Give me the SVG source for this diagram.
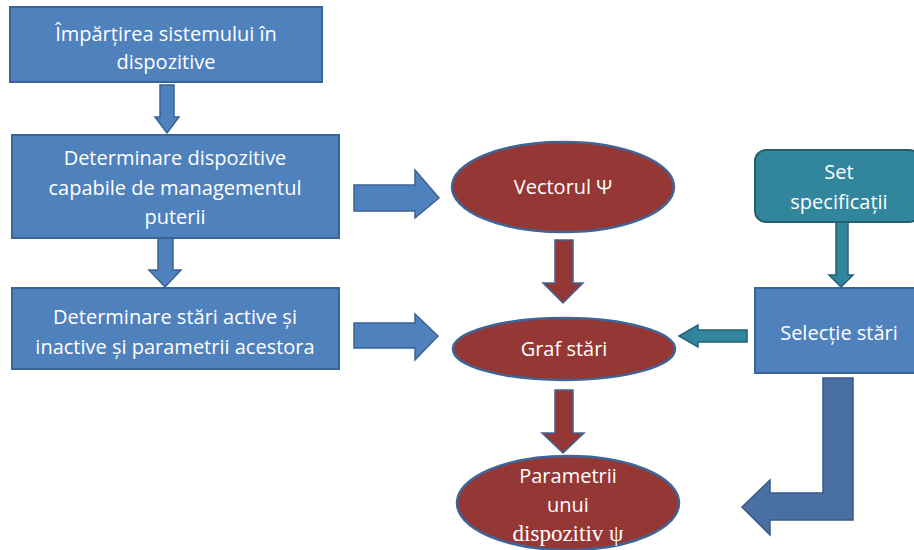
<svg xmlns="http://www.w3.org/2000/svg" width="914" height="550" viewBox="0 0 914 550">
  <style>
    .box { fill: #4F81BD; stroke: #3A6396; stroke-width: 2; }
    .teal { fill: #31859C; stroke: #245F70; stroke-width: 2; }
    .oval { fill: #953735; stroke: #3F6495; stroke-width: 2.5; }
    .arr-blue { fill: #4F81BD; stroke: #3A6396; stroke-width: 1.5; }
    .arr-red { fill: #953735; stroke: #3F6495; stroke-width: 1.5; }
    .arr-teal { fill: #31859C; stroke: #245F70; stroke-width: 1.5; }
    .arr-dark { fill: #4A6FA3; stroke: #3A5A88; stroke-width: 1.5; }
    text { font-family: "Open Sans", "Noto Sans", sans-serif; font-size: 20px; fill: #FFFFFF; text-anchor: middle; }
    .serif { font-family: "Liberation Serif", "DejaVu Serif", serif; font-size: 23px; }
  </style>

  <rect width="914" height="550" fill="#FFFFFF"/>

  <g id="connectors">
    <!-- left column, downward -->
    <polygon class="arr-blue" points="160,85 174,85 174,117 179,117 167,133 155,117 160,117"/>
    <polygon class="arr-blue" points="158,238 173,238 173,270 181,270 165,287 149,270 158,270"/>
    <!-- left column to ovals -->
    <polygon class="arr-blue" points="354,185 415,185 415,170 439,198 415,218 415,211 354,211"/>
    <polygon class="arr-blue" points="354,323 415,323 415,314 438,336 415,360 415,348 354,348"/>
    <!-- oval chain -->
    <polygon class="arr-red" points="555,240 573,240 573,283 583,283 563,303 543,283 555,283"/>
    <polygon class="arr-red" points="555,390 573,390 573,433 584,433 563,453 542,433 555,433"/>
    <!-- right column -->
    <polygon class="arr-teal" points="836,222 848,222 848,275 853,275 841,287 829,275 836,275"/>
    <polygon class="arr-teal" points="747,330 698,330 698,325 679,336 698,347 698,342 747,342"/>
    <!-- bent return arrow -->
    <polygon class="arr-dark" points="823,378 853,378 853,520 770,520 770,535 742,507 770,480 770,493 823,493"/>
  </g>

  <g id="node-impartire">
    <rect class="box" x="10" y="7" width="312" height="75"/>
    <text x="166" y="41">Împărțirea sistemului în</text>
    <text x="166" y="69">dispozitive</text>
  </g>

  <g id="node-determinare-dispozitive">
    <rect class="box" x="12" y="135" width="327" height="103"/>
    <text x="175" y="165">Determinare dispozitive</text>
    <text x="175" y="195">capabile de managementul</text>
    <text x="175" y="224">puterii</text>
  </g>

  <g id="node-determinare-stari">
    <rect class="box" x="12" y="288" width="327" height="81"/>
    <text x="175" y="324">Determinare stări active și</text>
    <text x="175" y="354">inactive și parametrii acestora</text>
  </g>

  <g id="node-vectorul">
    <ellipse class="oval" cx="563" cy="187" rx="111" ry="45"/>
    <text x="563" y="194">Vectorul Ψ</text>
  </g>

  <g id="node-graf">
    <ellipse class="oval" cx="564" cy="349" rx="111" ry="31"/>
    <text x="564" y="356">Graf stări</text>
  </g>

  <g id="node-parametrii">
    <ellipse class="oval" cx="568" cy="503" rx="111" ry="47"/>
    <text x="568" y="483">Parametrii</text>
    <text x="568" y="512">unui</text>
    <text class="serif" x="568" y="541">dispozitiv ψ</text>
  </g>

  <g id="node-set">
    <rect class="teal" x="755" y="150" width="165" height="72" rx="11"/>
    <text x="839" y="179">Set</text>
    <text x="839" y="209">specificații</text>
  </g>

  <g id="node-selectie">
    <rect class="box" x="755" y="288" width="165" height="85"/>
    <text x="839" y="340">Selecție stări</text>
  </g>
</svg>
